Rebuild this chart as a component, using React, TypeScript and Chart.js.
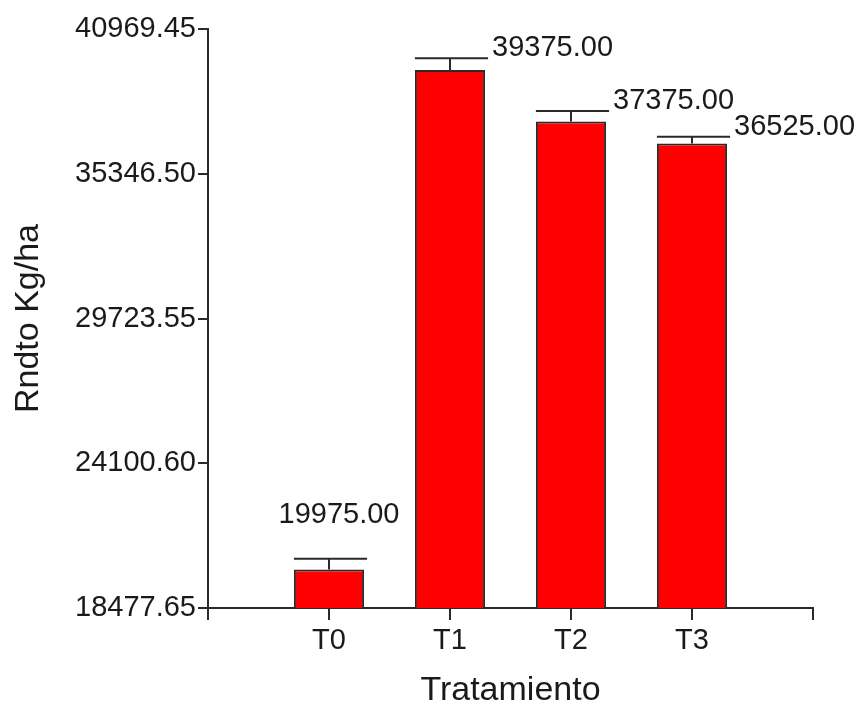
import React, { useEffect, useRef } from "react";
import { Chart, registerables } from "chart.js";

Chart.register(...registerables);

// Treatment yields (Kg/ha) with their standard errors
const categories = ["T0", "T1", "T2", "T3"];
const means = [19975, 39375, 37375, 36525];
const errors = [420, 460, 410, 260];
const yTicks = [18477.65, 24100.6, 29723.55, 35346.5, 40969.45];

const FONT = "'Liberation Sans', Arial, Helvetica, sans-serif";
const INK = "#1a1a1a";
const LINE = "#2a2a2a";

// Error bars plus the value written beside each cap
const errorBarPlugin = {
  id: "errorBars",
  afterDatasetsDraw(chart: any) {
    const meta = chart.getDatasetMeta(0);
    const yScale = chart.scales.y;
    const ctx = chart.ctx;
    ctx.save();
    ctx.strokeStyle = LINE;
    ctx.lineWidth = 2;
    ctx.fillStyle = INK;
    ctx.font = `29px ${FONT}`;
    means.forEach((m, i) => {
      const el = meta.data[i + 1];
      if (!el) return;
      const x = el.x;
      const top = el.y;
      const half = el.width / 2;
      const capY = yScale.getPixelForValue(m + errors[i]);
      ctx.beginPath();
      ctx.moveTo(x, top);
      ctx.lineTo(x, capY);
      ctx.moveTo(x - half, capY);
      ctx.lineTo(x + half + 3, capY);
      ctx.stroke();

      const text = m.toFixed(2);
      ctx.textBaseline = "alphabetic";
      if (i === 0) {
        ctx.textAlign = "center";
        ctx.fillText(text, x + 10, capY - 36);
      } else {
        ctx.textAlign = "left";
        ctx.fillText(text, x + half + 7, capY - 2);
      }
    });
    ctx.restore();
  },
};

export default function App() {
  const ref = useRef<HTMLCanvasElement | null>(null);

  useEffect(() => {
    if (!ref.current) return;
    const chart = new Chart(ref.current, {
      type: "bar",
      data: {
        labels: ["", ...categories, ""],
        datasets: [
          {
            data: [null, ...means, null],
            backgroundColor: "#ff0000",
            borderColor: LINE,
            borderWidth: 2,
            borderSkipped: false,
            barPercentage: 0.58,
            categoryPercentage: 1,
          },
        ],
      },
      options: {
        responsive: false,
        animation: false,
        devicePixelRatio: 1,
        layout: { padding: { top: 29, right: 50, bottom: 0, left: 0 } },
        plugins: {
          legend: { display: false },
          tooltip: { enabled: false },
        },
        scales: {
          x: {
            type: "category",
            offset: false,
            grid: {
              display: true,
              offset: false,
              drawOnChartArea: false,
              drawTicks: true,
              tickLength: 12,
              tickColor: LINE,
              lineWidth: 2,
            },
            border: { display: true, color: LINE, width: 2 },
            ticks: {
              color: INK,
              font: { family: FONT, size: 29 },
              padding: 4,
              maxRotation: 0,
              autoSkip: false,
            },
            title: {
              display: true,
              text: "Tratamiento",
              color: INK,
              font: { family: FONT, size: 34 },
              padding: { top: 0, bottom: 0 },
            },
            afterFit: (scale: any) => {
              scale.height = 103;
            },
          },
          y: {
            type: "linear",
            min: yTicks[0],
            max: yTicks[yTicks.length - 1],
            grid: {
              display: true,
              drawOnChartArea: false,
              drawTicks: true,
              tickLength: 10,
              tickColor: LINE,
              lineWidth: 2,
            },
            border: { display: true, color: LINE, width: 2 },
            afterBuildTicks: (scale: any) => {
              scale.ticks = yTicks.map((v) => ({ value: v }));
            },
            ticks: {
              color: INK,
              font: { family: FONT, size: 29 },
              padding: 2,
              callback: (v: any) => Number(v).toFixed(2),
            },
            title: {
              display: true,
              text: "Rndto Kg/ha",
              color: INK,
              font: { family: FONT, size: 34 },
              padding: { top: 8, bottom: 0 },
            },
            afterFit: (scale: any) => {
              scale.width = 208;
            },
          },
        },
      },
      plugins: [errorBarPlugin],
    });
    return () => chart.destroy();
  }, []);

  return (
    <div style={{ position: "absolute", left: 0, top: 0, width: 863, height: 711, background: "#fff" }}>
      <canvas ref={ref} width={863} height={711} style={{ display: "block" }} />
    </div>
  );
}
